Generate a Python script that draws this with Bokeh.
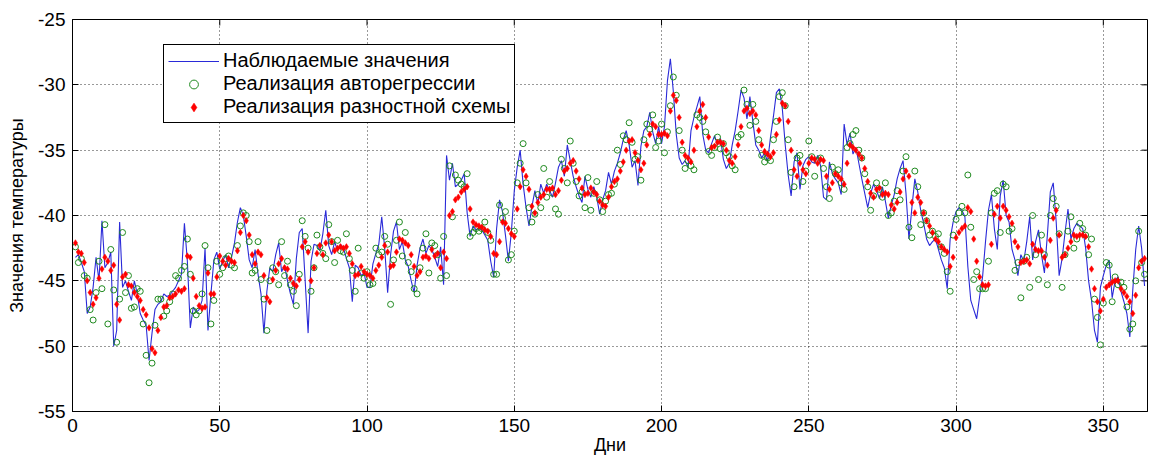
from bokeh.plotting import figure
from bokeh.models import Range1d, FixedTicker, Legend
from bokeh.embed import file_html
from bokeh.resources import INLINE

days = list(range(1, 365))

observed = [
    -43.2, -43.0, -43.6, -44.3, -47.5, -47.0, -45.5, -43.2, -45.0, -40.4,
    -44.0, -43.6, -42.8, -50.0, -48.8, -40.5, -45.5, -45.0, -45.8, -46.5,
    -45.0, -46.0, -47.5, -48.0, -48.4, -51.1, -49.0, -47.2, -46.8, -46.6,
    -46.0, -46.2, -46.1, -45.8, -45.5, -45.0, -44.5, -40.6, -43.5, -48.6,
    -47.0, -47.4, -47.2, -46.5, -42.5, -48.8, -46.0, -43.4, -42.8, -44.1,
    -43.5, -43.0, -44.0, -43.2, -42.1, -40.5, -39.4, -40.0, -41.6, -43.4,
    -44.0, -42.6, -44.5, -46.0, -49.0, -45.8, -44.0, -44.3, -43.0, -42.1,
    -44.3, -43.8, -45.0, -46.0, -46.8, -43.3, -41.3, -41.0, -45.0, -49.0,
    -43.5, -42.2, -42.3, -42.7, -41.4, -39.6, -42.3, -43.0, -42.0, -42.7,
    -42.2, -42.5, -43.3, -44.0, -46.6, -43.8, -44.0, -44.6, -44.4, -45.5,
    -45.5, -43.7, -42.9, -42.2, -40.1, -42.5, -45.9, -43.0, -41.2, -40.5,
    -42.6, -42.0, -43.4, -43.9, -45.0, -45.9, -43.8, -42.5, -41.8, -42.9,
    -42.3, -42.6, -43.2, -43.9, -42.4, -45.3, -35.4, -37.3, -36.0, -37.8,
    -37.6, -37.3, -36.8, -39.8, -41.6, -40.8, -41.1, -41.0, -41.1, -41.5,
    -41.9, -43.5, -44.7, -41.0, -38.8, -39.7, -41.5, -43.5, -41.3, -38.1,
    -36.3, -35.0, -37.6, -39.4, -40.8, -39.3, -38.1, -39.1, -37.6, -38.3,
    -37.6, -38.1, -38.6, -37.5, -36.3, -35.8, -37.0, -34.6, -35.8, -37.0,
    -37.8, -38.5, -39.0, -37.0, -38.0, -38.6, -37.8, -38.6, -39.9, -38.8,
    -38.1, -36.7, -37.6, -36.6, -36.0, -35.2, -34.2, -33.5, -34.6, -36.3,
    -35.8, -37.7, -34.7, -33.5, -33.2, -32.1, -33.6, -34.5, -33.2, -34.5,
    -33.2, -29.7, -28.0, -30.5, -33.8, -35.6, -36.1, -35.8, -36.3, -33.5,
    -32.5, -31.7, -30.9, -33.8, -35.0, -35.2, -34.5, -33.9, -34.6, -34.1,
    -35.7, -36.4, -36.0, -34.6, -33.5, -32.0, -30.4, -31.0, -32.6, -30.9,
    -32.8, -34.6, -35.0, -35.6, -35.2, -35.9, -34.0, -32.4, -30.6, -30.3,
    -31.8, -34.6, -36.9, -38.5, -35.9, -35.2, -38.0, -36.2, -35.7, -35.5,
    -35.9, -36.0, -35.4, -36.2, -38.6, -38.8, -35.9, -36.8, -37.2, -37.5,
    -38.4, -33.0, -34.6, -33.7, -35.3, -34.8, -36.0, -37.2, -38.3, -39.4,
    -38.3, -37.6, -38.1, -38.7, -37.8, -38.9, -40.2, -39.2, -38.4, -37.2,
    -36.4, -35.8, -38.3, -41.8, -39.4, -37.2, -38.2, -39.6, -40.6, -41.8,
    -42.3, -42.0, -41.8, -42.6, -43.4, -44.0, -45.6, -41.8, -40.5, -39.7,
    -39.4, -39.6, -40.1, -43.9, -46.5, -47.2, -47.9, -46.2, -44.7, -42.0,
    -39.6, -38.4, -41.0, -42.6, -38.5, -37.3, -40.0, -40.5, -42.6, -43.4,
    -44.6, -43.0, -43.5, -42.0, -40.1, -43.4, -42.0, -41.1, -43.0, -44.4,
    -41.5, -38.2, -37.5, -40.5, -44.6, -43.3, -41.3, -39.5, -41.8, -41.0,
    -40.6, -40.8, -41.0, -42.5, -45.0, -46.5, -48.8, -49.7, -45.5, -44.6,
    -43.8, -43.4, -46.3, -45.0, -44.7, -45.8, -46.6, -47.5, -49.3, -45.7,
    -42.6, -40.8, -42.5, -45.4,
]

autoregression = [
    -42.4, -43.6, -43.3, -44.6, -44.8, -47.2, -48.0, -45.9, -43.5, -45.6,
    -40.7, -48.3, -42.6, -45.7, -49.7, -46.4, -41.3, -45.9, -44.6, -47.1,
    -47.0, -45.6, -45.8, -48.3, -50.7, -52.8, -51.3, -48.4, -46.4, -46.4,
    -47.7, -47.3, -46.6, -46.0, -44.6, -44.8, -44.2, -43.9, -41.8, -44.5,
    -47.3, -47.6, -47.3, -46.0, -42.3, -44.0, -48.3, -46.5, -43.5, -44.5,
    -44.0, -43.3, -43.1, -43.8, -44.0, -42.3, -40.8, -39.8, -40.0, -42.0,
    -44.4, -44.2, -42.0, -44.9, -46.4, -48.8, -45.0, -44.0, -44.3, -45.3,
    -42.0, -44.6, -43.5, -45.3, -45.8, -46.9, -44.5, -40.4, -41.6, -42.5,
    -45.8, -44.0, -41.5, -42.4, -42.9, -43.3, -40.7, -42.0, -43.6, -41.9,
    -42.7, -42.8, -41.4, -43.3, -44.2, -45.8, -42.5, -44.4, -44.8, -44.3,
    -45.3, -45.2, -42.5, -43.0, -42.8, -41.6, -42.2, -46.8, -43.4, -41.9,
    -40.5, -43.1, -41.3, -43.6, -44.3, -45.6, -46.0, -44.0, -42.5, -41.4,
    -44.4, -42.1, -42.3, -43.0, -44.8, -41.6, -44.6, -36.2, -40.1, -36.9,
    -37.3, -37.6, -37.8, -36.8, -41.6, -41.3, -41.0, -41.2, -41.0, -40.5,
    -41.3, -41.9, -44.5, -44.5, -39.2, -40.2, -39.7, -43.4, -43.0, -41.2,
    -37.5, -36.0, -34.5, -37.5, -39.4, -40.5, -39.9, -38.4, -39.4, -36.4,
    -38.6, -37.4, -38.3, -39.5, -39.9, -35.7, -36.4, -37.5, -34.3, -36.0,
    -37.4, -38.5, -38.2, -39.4, -37.1, -39.6, -38.3, -37.4, -38.8, -39.7,
    -38.9, -38.4, -38.3, -37.6, -35.0, -36.1, -33.9, -34.2, -32.9, -34.4,
    -35.7, -35.5, -37.3, -34.2, -33.0, -33.4, -32.3, -34.8, -34.3, -33.0,
    -35.2, -33.6, -31.6, -29.4, -30.8, -33.5, -35.0, -36.4, -35.8, -36.2,
    -36.5, -32.3, -32.5, -32.8, -33.6, -35.1, -35.4, -34.8, -34.0, -34.9,
    -34.5, -35.2, -35.5, -36.2, -36.5, -34.0, -33.8, -30.4, -31.5, -33.1,
    -31.5, -32.8, -34.2, -35.4, -35.9, -35.6, -35.8, -34.2, -32.8, -30.9,
    -30.6, -31.6, -34.2, -36.7, -37.8, -35.6, -35.4, -37.4, -36.6, -34.3,
    -35.5, -37.0, -35.8, -35.6, -36.4, -37.8, -38.7, -36.3, -36.8, -36.5,
    -37.5, -38.0, -34.8, -34.5, -33.8, -33.5, -35.0, -35.6, -36.8, -37.8,
    -39.6, -38.5, -37.5, -38.0, -38.6, -37.5, -40.0, -39.8, -38.9, -38.1,
    -38.8, -36.6, -35.5, -40.9, -41.7, -36.6, -37.8, -40.7, -39.8, -40.4,
    -41.5, -41.2, -41.6, -41.4, -42.4, -42.9, -44.3, -45.8, -41.5, -40.3,
    -39.8, -39.3, -39.8, -36.9, -40.9, -44.9, -44.3, -45.6, -45.6, -45.6,
    -43.5, -39.8, -38.3, -38.1, -41.3, -37.6, -37.8, -41.2, -41.0, -44.2,
    -43.6, -46.3, -43.5, -43.2, -45.5, -40.0, -43.0, -44.9, -41.5, -43.0,
    -45.3, -40.0, -38.7, -39.3, -41.4, -45.5, -43.0, -41.2, -40.1, -42.5,
    -41.8, -40.6, -41.0, -41.5, -43.0, -41.8, -46.4, -47.8, -49.9, -46.7,
    -43.6, -43.8, -46.6, -44.7, -45.3, -45.1, -45.5, -47.0, -48.7, -48.3,
    -45.0, -41.2, -43.6, -44.5,
]

difference_scheme = [
    -42.1, -42.8, -42.9, -43.6, -45.0, -45.9, -46.8, -46.3, -44.8, -44.1,
    -43.2, -43.5, -44.2, -43.8, -46.8, -48.0, -44.7, -44.5, -45.3, -45.4,
    -45.9, -46.2, -46.5, -47.2, -47.6, -48.6, -50.2, -50.5, -48.8, -47.8,
    -47.0, -46.9, -46.3, -46.2, -46.0, -45.7, -45.8, -45.6, -43.1, -43.2,
    -44.8, -46.2, -46.9, -47.1, -47.0, -44.4, -46.0, -46.0, -44.7, -43.1,
    -43.5, -43.8, -43.3, -43.5, -43.6, -42.7, -41.3, -40.0, -40.4, -41.5,
    -43.0, -43.7, -42.8, -43.0, -44.6, -46.3, -46.6, -44.9, -44.2, -43.7,
    -43.3, -44.0, -44.1, -44.8, -45.2, -45.4, -44.9, -42.4, -42.0, -42.8,
    -45.0, -44.0, -42.9, -42.3, -43.0, -42.1, -41.5, -42.0, -42.7, -42.5,
    -42.4, -42.5, -42.4, -42.9, -43.7, -44.6, -44.5, -43.9, -44.3, -44.5,
    -44.6, -44.8, -44.2, -43.8, -43.2, -42.3, -42.8, -43.9, -43.8, -42.8,
    -41.8, -41.9, -42.1, -42.3, -43.0, -43.9, -44.6, -44.3, -43.2, -43.1,
    -43.3, -42.6, -43.1, -42.9, -44.0, -42.8, -43.3, -40.0, -39.7, -38.8,
    -38.6, -38.2, -38.0, -37.8, -39.5, -40.5, -40.7, -40.8, -40.9, -41.1,
    -41.2, -41.6, -42.9, -43.0, -42.0, -40.5, -40.6, -41.0, -41.4, -41.6,
    -39.5, -37.8, -36.5, -37.0, -38.0, -39.3, -39.8, -39.0, -38.6, -38.4,
    -38.0, -38.0, -37.9, -38.4, -38.1, -37.3, -36.6, -36.4, -36.0, -35.8,
    -36.6, -37.2, -37.9, -38.4, -38.3, -37.9, -38.2, -38.4, -38.9, -39.2,
    -39.3, -38.6, -37.8, -37.4, -37.2, -36.6, -35.9, -35.0, -34.3, -34.2,
    -35.2, -35.8, -36.5, -36.0, -34.6, -33.8, -33.0, -33.2, -33.8, -33.8,
    -33.7, -33.9, -32.0, -30.8, -31.2, -32.5, -34.4, -35.4, -35.6, -35.9,
    -35.0, -33.2, -32.0, -31.5, -32.5, -34.0, -34.8, -34.7, -34.4, -34.4,
    -34.5, -35.0, -35.8, -36.0, -35.5, -34.6, -33.2, -32.0, -31.8, -32.2,
    -32.0, -32.3, -33.5, -34.6, -35.1, -35.3, -35.5, -35.2, -33.8, -32.7,
    -31.4, -31.6, -32.8, -35.0, -36.5, -37.0, -36.0, -36.5, -36.8, -36.0,
    -35.6, -35.7, -36.0, -35.7, -35.8, -37.0, -38.0, -37.5, -36.8, -37.0,
    -37.2, -37.6, -36.0, -34.6, -34.8, -35.0, -35.3, -35.6, -36.4, -37.4,
    -38.3, -38.6, -38.0, -37.9, -38.4, -38.3, -38.4, -39.2, -39.5, -39.0,
    -38.2, -37.2, -36.6, -37.0, -39.0, -39.8, -38.6, -39.0, -39.8, -40.4,
    -40.8, -41.3, -41.8, -42.0, -42.4, -42.6, -42.8, -43.9, -43.2, -41.7,
    -41.3, -41.0, -40.8, -39.4, -39.7, -41.8, -43.5, -44.7, -45.3, -45.4,
    -45.3, -42.2, -39.9, -39.3, -40.2, -39.3, -39.6, -40.1, -40.6, -42.0,
    -42.4, -43.6, -43.5, -43.4, -43.7, -42.2, -42.6, -42.7, -42.7, -43.2,
    -43.8, -41.9, -40.2, -39.6, -41.5, -43.2, -43.0, -42.5, -42.0, -41.5,
    -41.6, -41.5, -41.5, -41.6, -42.4, -44.1, -45.6, -46.6, -47.3, -46.4,
    -45.5, -45.3, -45.1, -45.0, -45.0, -45.6, -45.9, -46.2, -46.6, -47.5,
    -46.1, -44.0, -43.5, -43.3,
]

x_ticks = [0, 50, 100, 150, 200, 250, 300, 350]
y_ticks = [-55, -50, -45, -40, -35, -30, -25]
y_tick_labels = {t: "%d" % t for t in y_ticks}
X_MIN, X_MAX = 0, 365
Y_MIN, Y_MAX = -55, -25

FONT = "Liberation Sans"

p = figure(width=1156, height=461, x_range=Range1d(X_MIN, X_MAX), y_range=Range1d(Y_MIN, Y_MAX),
           output_backend="svg", toolbar_location=None,
           min_border_left=72, min_border_right=9, min_border_top=19, min_border_bottom=50,
           background_fill_color="white", border_fill_color="white")

p.outline_line_color = "black"
p.outline_line_alpha = 1.0

for ax in (p.xaxis[0], p.yaxis[0]):
    ax.major_tick_in = 6
    ax.major_tick_out = 0
    ax.minor_tick_line_color = None
    ax.axis_line_color = "black"
    ax.major_tick_line_color = "black"
    ax.major_label_text_font = FONT
    ax.major_label_text_font_size = "19px"
    ax.major_label_text_color = "black"
    ax.axis_label_text_font = FONT
    ax.axis_label_text_font_size = "18px"
    ax.axis_label_text_font_style = "normal"
    ax.axis_label_text_color = "black"

p.xaxis.ticker = FixedTicker(ticks=x_ticks)
p.yaxis.ticker = FixedTicker(ticks=y_ticks)
p.yaxis.major_label_overrides = y_tick_labels
p.xaxis.axis_label = "Дни"
p.yaxis.axis_label = "Значения температуры"
p.xaxis.major_label_standoff = 7
p.xaxis.axis_label_standoff = 0
p.yaxis.major_label_standoff = 7
p.yaxis.axis_label_standoff = 8

for g in (p.xgrid[0], p.ygrid[0]):
    g.grid_line_color = "black"
    g.grid_line_dash = "1 3"
    g.grid_line_alpha = 0.8
    g.grid_line_width = 1
p.xgrid.ticker = FixedTicker(ticks=x_ticks)
p.ygrid.ticker = FixedTicker(ticks=y_ticks)

# inward tick marks on the right and top edges of the box (6 px long)
tick_dx = 6 * (X_MAX - X_MIN) / 1075.0
tick_dy = 6 * (Y_MAX - Y_MIN) / 392.0
p.segment(x0=[X_MAX] * len(y_ticks), y0=y_ticks, x1=[X_MAX - tick_dx] * len(y_ticks), y1=y_ticks,
          line_color="black", line_width=1)
p.segment(x0=x_ticks, y0=[Y_MAX] * len(x_ticks), x1=x_ticks, y1=[Y_MAX - tick_dy] * len(x_ticks),
          line_color="black", line_width=1)

line_r = p.line(days, observed, line_color="#2a2ad8", line_width=1.1)
ar_r = p.scatter(days, autoregression, marker="circle", size=6, fill_color=None,
                 line_color="#1f8a1f", line_width=1)
ds_r = p.scatter(days, difference_scheme, marker="diamond", size=6.5, fill_color="#ff0000",
                 line_color="#ff0000", line_width=0.5)

legend = Legend(items=[("Наблюдаемые значения", [line_r]),
                       ("Реализация авторегрессии", [ar_r]),
                       ("Реализация разностной схемы", [ds_r])],
                location=(91, 288))
legend.margin = 0
legend.padding = 4
legend.spacing = 0
legend.glyph_width = 51
legend.glyph_height = 22
legend.label_height = 22
legend.label_standoff = 4
legend.label_text_font = FONT
legend.label_text_font_size = "20px"
legend.label_text_color = "black"
legend.border_line_color = "black"
legend.border_line_width = 1
legend.border_line_alpha = 1
legend.background_fill_color = "white"
legend.background_fill_alpha = 1
p.add_layout(legend)

open("out.html", "w").write(file_html(p, INLINE))
